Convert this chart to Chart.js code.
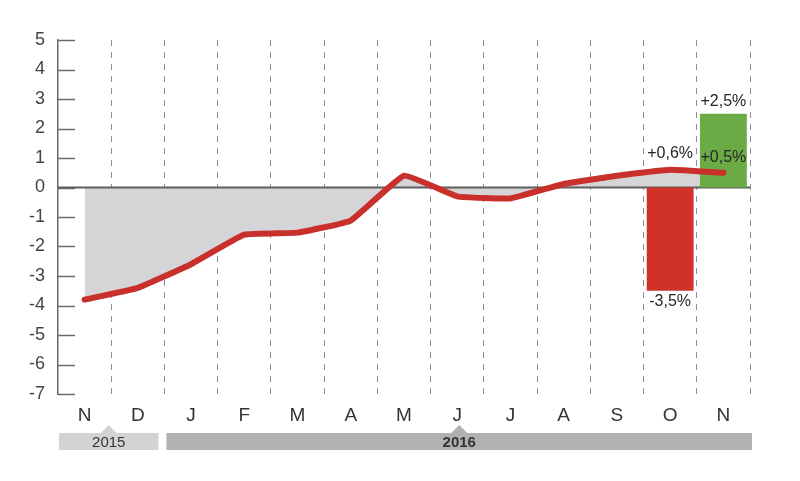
<!DOCTYPE html>
<html>
<head>
<meta charset="utf-8">
<script src="https://cdn.jsdelivr.net/npm/chart.js@4.4.1/dist/chart.umd.min.js"></script>
<style>
  html, body { margin: 0; padding: 0; background: #fff; }
  #chart { display: block; }
</style>
</head>
<body>
<canvas id="chart" width="800" height="481"></canvas>
<script>
var meses = ["N", "D", "J", "F", "M", "A", "M", "J", "J", "A", "S", "O", "N"];
var variacion = [-3.8, -3.4, -2.6, -1.6, -1.53, -1.12, 0.4, -0.3, -0.37, 0.12, 0.4, 0.6, 0.5];
var barraRoja = [null, null, null, null, null, null, null, null, null, null, null, -3.5, null];
var barraVerde = [null, null, null, null, null, null, null, null, null, null, null, null, 2.5];
var anios = ["2015", "2016"];
var mesesPorAnio = [2, 11];
var yTicks = [5, 4, 3, 2, 1, 0, -1, -2, -3, -4, -5, -6, -7];

var FUENTE = "'Liberation Sans', Arial, sans-serif";

function formatPorcentaje(v) {
  var s = Math.abs(v).toFixed(1).replace(".", ",") + "%";
  return (v < 0 ? "-" : "+") + s;
}

// marcas cortas del eje Y hacia la derecha y linea del cero
var ejesPlugin = {
  id: "ejes",
  beforeDatasetsDraw: function (chart) {
    var ctx = chart.ctx;
    var y = chart.scales.y;
    var area = chart.chartArea;
    ctx.save();
    ctx.strokeStyle = "#6a6a6a";
    ctx.lineWidth = 1.5;
    yTicks.forEach(function (t) {
      var py = Math.round(y.getPixelForValue(t)) + 0.5;
      ctx.beginPath();
      ctx.moveTo(area.left, py);
      ctx.lineTo(area.left + 17, py);
      ctx.stroke();
    });
    var y0 = y.getPixelForValue(0);
    ctx.strokeStyle = "#5e5e5e";
    ctx.lineWidth = 2;
    ctx.beginPath();
    ctx.moveTo(area.left, y0);
    ctx.lineTo(area.right, y0);
    ctx.stroke();
    ctx.restore();
  }
};

// etiquetas de valores y bandas de años
var etiquetasPlugin = {
  id: "etiquetas",
  afterDatasetsDraw: function (chart) {
    var ctx = chart.ctx;
    var x = chart.scales.x;
    var y = chart.scales.y;
    var ultimo = meses.length - 1;
    ctx.save();
    ctx.fillStyle = "#262626";
    ctx.font = "16px " + FUENTE;
    ctx.textAlign = "center";
    ctx.textBaseline = "middle";

    var iO = ultimo - 1;
    ctx.fillText(formatPorcentaje(variacion[iO]), x.getPixelForValue(iO), y.getPixelForValue(variacion[iO]) - 16);
    ctx.fillText(formatPorcentaje(variacion[ultimo]), x.getPixelForValue(ultimo), y.getPixelForValue(variacion[ultimo]) - 15);
    ctx.fillText(formatPorcentaje(barraVerde[ultimo]), x.getPixelForValue(ultimo), y.getPixelForValue(barraVerde[ultimo]) - 12);
    ctx.fillText(formatPorcentaje(barraRoja[iO]), x.getPixelForValue(iO), y.getPixelForValue(barraRoja[iO]) + 11);

    // bandas de años
    var ancho = x.getPixelForValue(1) - x.getPixelForValue(0);
    var inicio = 0;
    var colores = ["#d3d3d3", "#b1b1b1"];
    anios.forEach(function (anio, i) {
      var fin = inicio + mesesPorAnio[i] - 1;
      var izq = x.getPixelForValue(inicio) - ancho / 2 + (i === 0 ? 1 : 2);
      var der = x.getPixelForValue(fin) + ancho / 2 + (i === 0 ? -6 : 2);
      var centro = (izq + der) / 2;
      ctx.fillStyle = colores[i];
      ctx.fillRect(izq, 433, der - izq, 17);
      ctx.beginPath();
      ctx.moveTo(centro - 8, 433);
      ctx.lineTo(centro, 425);
      ctx.lineTo(centro + 8, 433);
      ctx.closePath();
      ctx.fill();
      ctx.fillStyle = "#333";
      ctx.font = (i === 0 ? "" : "bold ") + "15px " + FUENTE;
      ctx.fillText(anio, centro, 443);
      inicio = fin + 1;
    });
    ctx.restore();
  }
};

new Chart("chart", {
  type: "bar",
  data: {
    labels: meses,
    datasets: [{
      type: "line",
      data: variacion,
      borderColor: "#c9302c",
      borderWidth: 6,
      borderCapStyle: "round",
      borderJoinStyle: "round",
      backgroundColor: "#d5d5d7",
      fill: "origin",
      tension: 0.1,
      pointRadius: 0,
      order: 0
    }, {
      data: barraRoja,
      backgroundColor: "#d0322a",
      grouped: false,
      barPercentage: 0.88,
      categoryPercentage: 1,
      order: 1
    }, {
      data: barraVerde,
      backgroundColor: "#6aab45",
      grouped: false,
      barPercentage: 0.88,
      categoryPercentage: 1,
      order: 1
    }]
  },
  options: {
    responsive: false,
    animation: false,
    layout: { padding: { top: 40, right: 50, left: 0, bottom: 0 } },
    plugins: {
      legend: { display: false },
      tooltip: { enabled: false },
      filler: { drawTime: "beforeDatasetsDraw" }
    },
    scales: {
      x: {
        offset: true,
        grid: {
          offset: true,
          drawTicks: false,
          color: "#8f8f8f",
          lineWidth: 1,
          tickBorderDash: [6, 6]
        },
        border: { display: false, dash: [6, 6] },
        ticks: {
          color: "#333",
          font: { family: FUENTE, size: 19 },
          padding: 10,
          maxRotation: 0,
          autoSkip: false
        },
        afterFit: function (scale) { scale.height = 87; }
      },
      y: {
        min: -7,
        max: 5,
        grid: { display: false, drawTicks: false },
        border: { display: true, color: "#6a6a6a", width: 1.5 },
        ticks: {
          stepSize: 1,
          color: "#444",
          font: { family: FUENTE, size: 18 },
          padding: 13
        },
        afterFit: function (scale) { scale.width = 58; }
      }
    }
  },
  plugins: [ejesPlugin, etiquetasPlugin]
});
</script>
</body>
</html>
